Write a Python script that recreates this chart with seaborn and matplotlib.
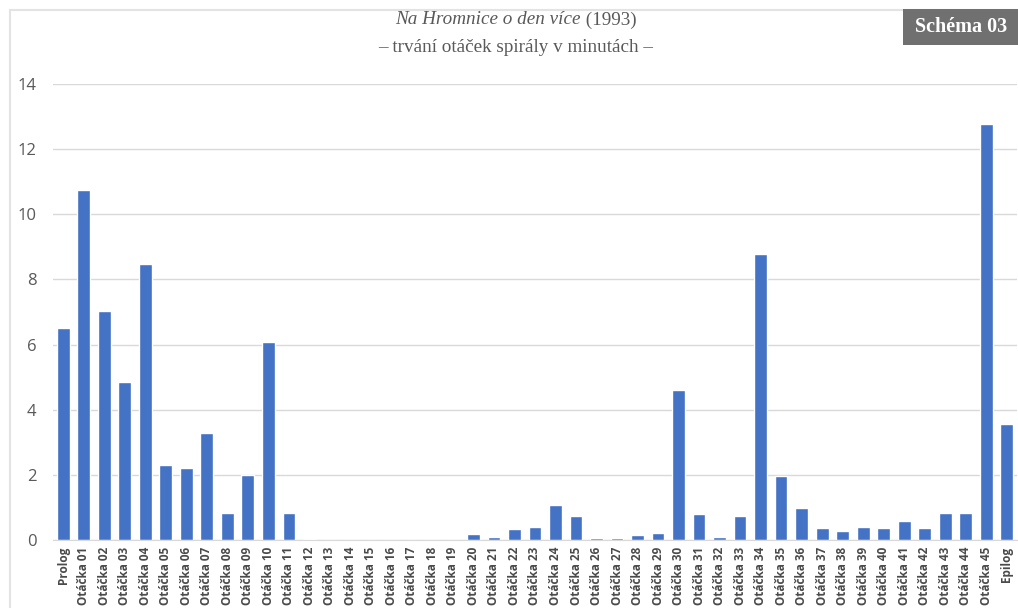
import matplotlib
matplotlib.use("Agg")
import matplotlib.pyplot as plt
import seaborn as sns
import pandas as pd
from matplotlib.patches import Rectangle

# Daten: Dauer der Otáčky (Minuten)
labels = ["Prolog"] + [f"Otáčka {i:02d}" for i in range(1, 46)] + ["Epilog"]
minutes = [6.50, 10.74, 7.03, 4.84, 8.48, 2.29, 2.21, 3.30, 0.82, 2.01,
           6.08, 0.84, 0.03, 0.01, 0.01, 0.01, 0.0, 0.01, 0.0, 0.01,
           0.17, 0.08, 0.33, 0.39, 1.08, 0.75, 0.07, 0.05, 0.15, 0.22,
           4.60, 0.81, 0.09, 0.74, 8.78, 1.96, 0.97, 0.38, 0.29, 0.40,
           0.37, 0.57, 0.38, 0.84, 0.84, 12.77, 3.55]
title_italic = "Na Hromnice o den více"
title_year = " (1993)"
subtitle = "– trvání otáček spirály v minutách –"
badge = "Schéma 03"

df = pd.DataFrame({"label": labels, "min": minutes})

sns.set_style("white")
plt.rcParams["font.family"] = ["Open Sans", "DejaVu Sans"]

fig = plt.figure(figsize=(10.18, 6.08), dpi=100)
ax = fig.add_axes([53 / 1018, 1 - 540 / 608, 964 / 1018, 456 / 608])

sns.barplot(data=df, x="label", y="min", color="#4472C4", saturation=1,
            width=0.62, ax=ax)

ax.set_ylim(0, 14)
ax.set_xlim(-0.5, len(labels) - 0.5)
ax.set_yticks(range(0, 15, 2))
ax.yaxis.grid(True, color="#d9d9d9", linewidth=1)
ax.set_axisbelow(True)
for s in ["top", "right", "left"]:
    ax.spines[s].set_visible(False)
ax.spines["bottom"].set_color("#d9d9d9")
ax.set_xlabel("")
ax.set_ylabel("")
ax.tick_params(axis="y", length=0, labelsize=12, labelcolor="#595959", pad=12)
ax.tick_params(axis="x", length=0, labelsize=8.5, labelcolor="#4a4a4a", pad=5)
plt.setp(ax.get_xticklabels(), rotation=90, fontweight="bold")

# Rahmen links/oben
fig.add_artist(Rectangle((10 / 1018, -0.1), 1.2, 1.1 - 10 / 608,
                         transform=fig.transFigure, fill=False,
                         edgecolor="#e3e3e3", linewidth=1.5))

# Titel
serif = ["Liberation Serif", "DejaVu Serif"]
tsize = 13.8
cx = 516 / 1018
t1 = fig.text(cx, 1 - 20 / 608, title_italic, family=serif, style="italic",
              fontsize=tsize, color="#595959", ha="right", va="center")
t2 = fig.text(cx, 1 - 20 / 608, title_year, family=serif,
              fontsize=tsize, color="#595959", ha="left", va="center")
fig.canvas.draw()
w_it = t1.get_window_extent().width
w_yr = t2.get_window_extent().width
shift = (w_it - w_yr) / 2 / fig.bbox.width
t1.set_x(cx + shift)
t2.set_x(cx + shift)
fig.text(cx, 1 - 47 / 608, subtitle, family=serif, fontsize=tsize,
         color="#595959", ha="center", va="center")

# Badge
fig.add_artist(Rectangle((903 / 1018, 1 - 45 / 608), 115 / 1018, 36 / 608,
                         transform=fig.transFigure, facecolor="#707070",
                         edgecolor="none"))
fig.text(961 / 1018, 1 - 27 / 608, badge, family=serif, fontsize=14.5,
         fontweight="bold", color="white", ha="center", va="center")

fig.savefig("out.png", dpi=100)
